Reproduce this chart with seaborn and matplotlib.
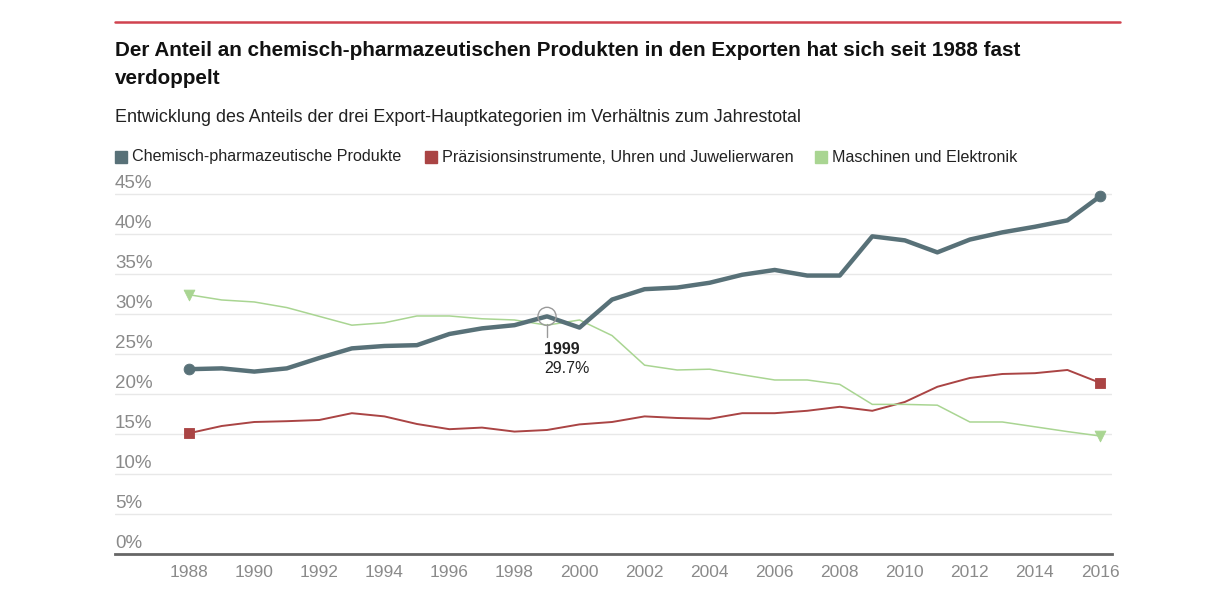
import matplotlib.pyplot as plt
import seaborn as sns
import pandas as pd
from matplotlib.lines import Line2D
from matplotlib.patches import Rectangle

years = list(range(1988, 2017))

chemie = [23.1, 23.2, 22.8, 23.2, 24.5, 25.7, 26.0, 26.1, 27.5, 28.2, 28.6, 29.7, 28.3,
          31.8, 33.1, 33.3, 33.9, 34.9, 35.5, 34.8, 34.8, 39.7, 39.2, 37.7, 39.3, 40.2,
          40.9, 41.7, 44.7]
praezision = [15.1, 16.0, 16.5, 16.6, 16.75, 17.6, 17.2, 16.25, 15.6, 15.8, 15.3, 15.5, 16.2,
              16.5, 17.2, 17.0, 16.9, 17.6, 17.6, 17.9, 18.4, 17.9, 19.0, 20.9, 22.0, 22.5,
              22.6, 23.0, 21.4]
maschinen = [32.4, 31.75, 31.5, 30.8, 29.7, 28.6, 28.9, 29.75, 29.75, 29.4, 29.25, 28.6, 29.25,
             27.3, 23.6, 23.0, 23.1, 22.4, 21.75, 21.75, 21.2, 18.7, 18.7, 18.6, 16.5, 16.5,
             15.9, 15.3, 14.75]

names = ["Chemisch-pharmazeutische Produkte",
         "Präzisionsinstrumente, Uhren und Juwelierwaren",
         "Maschinen und Elektronik"]
colors = ["#587178", "#aa4444", "#a9d592"]
y_ticks = [0, 5, 10, 15, 20, 25, 30, 35, 40, 45]
x_ticks = list(range(1988, 2017, 2))

df = pd.DataFrame({"Jahr": years, names[0]: chemie, names[1]: praezision, names[2]: maschinen})
long = df.melt(id_vars="Jahr", var_name="Kategorie", value_name="Anteil")

sns.set_style("white")
plt.rcParams["font.family"] = ["Liberation Sans", "DejaVu Sans"]

fig = plt.figure(figsize=(12.24, 6.14), dpi=100)
ax = fig.add_axes([0.094, 0.0977, 0.8145, 0.619])

widths = {names[0]: 3.2, names[1]: 1.4, names[2]: 1.1}
markers = {names[0]: "o", names[1]: "s", names[2]: "v"}
for name, col in zip(names, colors):
    sub = long[long["Kategorie"] == name]
    sns.lineplot(data=sub, x="Jahr", y="Anteil", color=col, lw=widths[name], ax=ax,
                 zorder=3 if name == names[0] else 2)
    ends = sub.iloc[[0, -1]]
    sns.scatterplot(data=ends, x="Jahr", y="Anteil", color=col, marker=markers[name],
                    s=60, edgecolor=col, ax=ax, zorder=4)

ax.set_xlim(1985.72, 2016.37)
ax.set_ylim(0, 47.5)
ax.set_xticks(x_ticks)
ax.set_xticklabels([str(x) for x in x_ticks], color="#8a8a8a", fontsize=12.5)
ax.set_yticks(y_ticks)
ax.set_yticklabels([])
ax.tick_params(axis="both", length=0)
ax.tick_params(axis="x", pad=8)
ax.grid(axis="y", color="#e8e8e8", lw=1)
ax.set_xlabel("")
ax.set_ylabel("")
for s in ["top", "right", "left"]:
    ax.spines[s].set_visible(False)
ax.spines["bottom"].set_color("#666666")
ax.spines["bottom"].set_linewidth(2)
ax.spines["bottom"].set_zorder(5)

for v in y_ticks:
    ax.text(0, v + 0.2, f"{v}%", transform=ax.get_yaxis_transform(), ha="left", va="bottom",
            color="#8a8a8a", fontsize=13.5)

# Markierung 1999
i99 = years.index(1999)
ax.scatter([1999], [chemie[i99]], s=170, facecolor="none", edgecolor="#9a9a9a", lw=1, zorder=6)
ax.plot([1999, 1999], [chemie[i99] - 1.0, chemie[i99] - 2.6], color="#9a9a9a", lw=1, zorder=6)
ax.text(1998.9, chemie[i99] - 3.2, "1999", ha="left", va="top", fontsize=11.5,
        fontweight="bold", color="#222222")
ax.text(1998.9, chemie[i99] - 5.6, f"{chemie[i99]}%", ha="left", va="top", fontsize=11.5,
        color="#222222")

# Kopfbereich
fig.add_artist(Line2D([0.094, 0.915], [1 - 22 / 614, 1 - 22 / 614], color="#d0434f", lw=1.8))
fig.text(0.094, 1 - 51 / 614, "Der Anteil an chemisch-pharmazeutischen Produkten in den Exporten hat sich seit 1988 fast",
         fontsize=14.9, fontweight="bold", va="center", color="#111111")
fig.text(0.094, 1 - 79 / 614, "verdoppelt", fontsize=14.9, fontweight="bold", va="center", color="#111111")
fig.text(0.094, 1 - 118 / 614, "Entwicklung des Anteils der drei Export-Hauptkategorien im Verhältnis zum Jahrestotal",
         fontsize=12.9, va="center", color="#222222")

leg_x = [115, 425, 815]
for x0, name, col in zip(leg_x, names, colors):
    fig.add_artist(Rectangle((x0 / 1224, 1 - 163 / 614), 12 / 1224, 12 / 614, color=col))
    fig.text((x0 + 17) / 1224, 1 - 157 / 614, name, fontsize=11.6, va="center", color="#222222")

fig.savefig("out.png", dpi=100)
